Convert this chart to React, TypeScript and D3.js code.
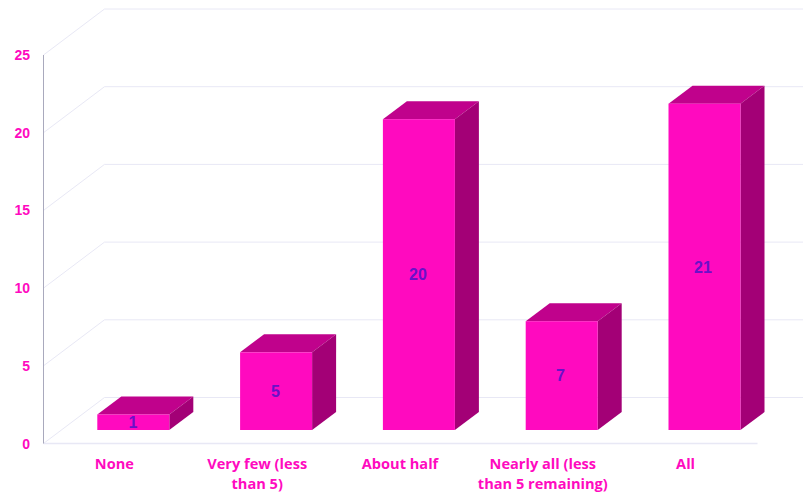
import React from "react";
import * as d3 from "d3";

const categories = ["None", "Very few (less than 5)", "About half", "Nearly all (less than 5 remaining)", "All"];
const categoryLines = [["None"], ["Very few (less", "than 5)"], ["About half"], ["Nearly all (less", "than 5 remaining)"], ["All"]];
const values = [1, 5, 20, 7, 21];
const yTicks = [0, 5, 10, 15, 20, 25];

const PINK = "#ff0abf";
const TOP = "#c0028c";
const SIDE = "#a30076";
const VALUE_INK = "#6a10c8";
const GRID = "#e8e8f5";

const width = 803;
const height = 493;

// Front plane of the 3D plot box
const y = d3.scaleLinear().domain([0, 25]).range([443.5, 55]);
const x = d3.scaleBand<string>().domain(categories).range([43.5, 757.5]);
// Value captions sit a little inboard of the bar centres toward the right end
const captionX = d3.scalePoint<string>().domain(categories).range([133, 703]);

// Depth offsets: back wall of the box, the front face of bars, and bar thickness
const wall = { dx: 61, dy: -46 };
const barFront = { dx: 18.4, dy: -13.5 };
const barDepth = { dx: 24, dy: -18 };
const barWidth = 72;

export default function App() {
  return (
    <svg width={width} height={height} style={{ position: "absolute", left: 0, top: 0, background: "#fff" }}>
      {yTicks.map((t) => (
        <path
          key={t}
          d={`M${x.range()[0]},${y(t)} L${x.range()[0] + wall.dx},${y(t) + wall.dy} H${width}`}
          fill="none"
          stroke={GRID}
          strokeWidth={1}
        />
      ))}
      <line x1={43.5} x2={757.5} y1={y(0)} y2={y(0)} stroke={GRID} strokeWidth={1.5} />
      <line x1={43.5} x2={43.5} y1={y(0)} y2={y(25)} stroke="#a9a9bd" strokeWidth={1} />

      {yTicks.map((t) => (
        <text
          key={t}
          x={30}
          y={y(t) + 5}
          textAnchor="end"
          fontFamily="'Liberation Sans', Arial, sans-serif"
          fontWeight="bold"
          fontSize={14}
          fill={PINK}
        >
          {t}
        </text>
      ))}

      {categories.map((c, i) => {
        const v = values[i];
        const cx = x(c)! + x.bandwidth() / 2 + barFront.dx;
        const x0 = cx - barWidth / 2;
        const x1 = cx + barWidth / 2;
        const yBase = y(0) + barFront.dy;
        const yTop = y(v) + barFront.dy;
        const { dx, dy } = barDepth;
        return (
          <g key={c}>
            <path d={`M${x0},${yTop} L${x0 + dx},${yTop + dy} H${x1 + dx} L${x1},${yTop} Z`} fill={TOP} />
            <path d={`M${x1},${yTop} L${x1 + dx},${yTop + dy} V${yBase + dy} L${x1},${yBase} Z`} fill={SIDE} />
            <rect x={x0} y={yTop} width={barWidth} height={yBase - yTop} fill={PINK} />
            <text
              x={captionX(c)}
              y={(yTop + yBase) / 2 + 5.8}
              textAnchor="middle"
              fontFamily="'Liberation Sans', Arial, sans-serif"
              fontWeight="bold"
              fontSize={16}
              fill={VALUE_INK}
            >
              {v}
            </text>
          </g>
        );
      })}

      {categories.map((c, i) => (
        <text
          key={c}
          textAnchor="middle"
          fontFamily="'Open Sans', sans-serif"
          fontWeight="bold"
          fontSize={14.6}
          fill={PINK}
        >
          {categoryLines[i].map((line, j) => (
            <tspan key={line} x={x(c)! + x.bandwidth() / 2 - 0.5} y={469 + j * 20}>
              {line}
            </tspan>
          ))}
        </text>
      ))}
    </svg>
  );
}
